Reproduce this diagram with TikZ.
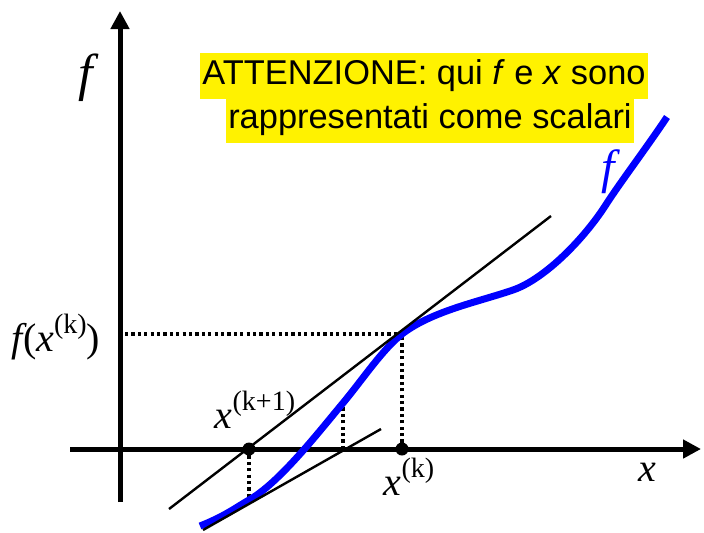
\documentclass[tikz,border=0pt]{standalone}
\usepackage{fontspec}
\newfontfamily\notefont{Liberation Sans}
\newfontfamily\labelfont{Liberation Serif}
\usetikzlibrary{positioning, arrows.meta}

\newcommand{\vx}[1]{{\itshape x}\raisebox{0.45em}{\fontsize{14}{14}\selectfont(#1)}}

\begin{document}
\begin{tikzpicture}[
    x=0.5pt, y=-0.5pt,
    axis/.style={line width=2.5pt, -{Triangle[length=9pt,width=9pt]}},
    tangent/.style={line width=1.2pt},
    guide/.style={line width=1.6pt, dash pattern=on 1.6pt off 1.6pt},
    curve/.style={line width=3.5pt, blue},
    dot/.style={circle, fill, inner sep=0pt, minimum size=6.5pt},
    note/.style={fill=yellow, inner xsep=1pt, inner ysep=0pt, minimum height=23pt, font=\notefont\fontsize{17.2}{19}\selectfont},
    lbl/.style={inner sep=0pt, font=\labelfont\fontsize{20}{22}\selectfont}
]
\useasboundingbox (0,0) rectangle (704,532);

% axes
\coordinate (xs) at (70,449);
\coordinate (xe) at (701,449);
\coordinate (ys) at (120,502);
\coordinate (ye) at (120,11);
\draw[axis] (xs) -- (xe);
\draw[axis] (ys) -- (ye);

% points
\coordinate (k1) at (249,449);
\coordinate (k) at (402,449);
\coordinate (fk) at (402,334);
\coordinate (fk1) at (249,500);
\coordinate (mid) at (343,449);
\coordinate (fmid) at (343,403);
\coordinate (fy) at (125,334);

% guides
\draw[guide] (fy) -- (fk);
\draw[guide] (k) -- (fk);
\draw[guide] (k1) -- (fk1);
\draw[guide] (mid) -- (fmid);

% f
\draw[curve] (200,526) .. controls (225,516) and (235,508) .. (fk1)
    .. controls (279,483) and (318,433) .. (fmid)
    .. controls (363,379) and (382,350) .. (fk)
    .. controls (432,311) and (478,302) .. (513,290)
    .. controls (545,279) and (585,238) .. (607,203)
    .. controls (622,180) and (647,147) .. (667,117);

% tangents
\coordinate (t1a) at (169,509);
\coordinate (t1b) at (551,216);
\coordinate (t2a) at (203,530);
\coordinate (t2b) at (381,429);
\draw[tangent] (t1a) -- (t1b);
\draw[tangent] (t2a) -- (t2b);

\node[dot] (xk1) at (k1) {};
\node[dot] (xk) at (k) {};

% labels
\node[lbl, font=\labelfont\itshape\fontsize{26}{28}\selectfont] (fax) at (86,78) {f};
\node[lbl, font=\labelfont\itshape\fontsize{24}{26}\selectfont, text=blue] (fcurve) at (608,172) {f};
\node[lbl] (xax) at (647,472) {\itshape x};
\node[lbl] (fval) at (56,337) {{\itshape f}(\vx{k})};
\node[lbl] (lk1) at (255,410) {\vx{k+1}};
\node[lbl] (lk) at (409,477) {\vx{k}};

\node[note] (note1) at (424,76) {ATTENZIONE: qui \textit{f} e \textit{x} sono};
\node[note] (note2) at (430,120) {rappresentati come scalari};
\end{tikzpicture}
\end{document}
